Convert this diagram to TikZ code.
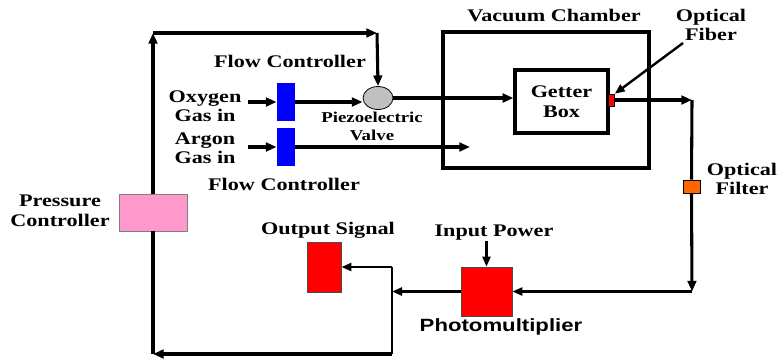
\documentclass[tikz,border=0pt]{standalone}
\usepackage{fontspec}
\newfontfamily\labfont{Liberation Serif}[FakeStretch=1.25]
\newfontfamily\sanslab{Liberation Sans}[FakeStretch=1.25]
\usetikzlibrary{arrows.meta,shapes.geometric}
\definecolor{fcblue}{RGB}{0,0,255}
\definecolor{pcpink}{RGB}{255,153,204}
\definecolor{fred}{RGB}{255,0,0}
\definecolor{forange}{RGB}{255,102,0}
\definecolor{vgray}{RGB}{192,192,192}
\begin{document}
\begin{tikzpicture}[x=0.75pt,y=-0.75pt,
  lab/.style={font=\labfont\bfseries\fontsize{13.3pt}{14.6pt}\selectfont, align=center, inner sep=0pt},
  smalllab/.style={font=\labfont\bfseries\fontsize{11.3pt}{13.5pt}\selectfont, align=center, inner sep=0pt},
  sanslabel/.style={font=\sanslab\bfseries\fontsize{13.3pt}{14.6pt}\selectfont, align=center, inner sep=0pt},
  box/.style={draw, rectangle, inner sep=0pt, line width=0.6pt},
  conn/.style={line width=2.3pt},
  arr/.style={line width=2.3pt, -{Triangle[length=8pt,width=6.5pt]}},
  tarr/.style={line width=1.8pt, -{Triangle[length=7.5pt,width=6pt]}},
  thinl/.style={line width=1.8pt}
]
\useasboundingbox (0,0) rectangle (780,362);

% boxes
\node[box, draw=none, fill=fcblue, minimum width={18*0.75pt}, minimum height={38*0.75pt}] (fc1) at (286,102) {};
\node[box, draw=none, fill=fcblue, minimum width={18*0.75pt}, minimum height={38*0.75pt}] (fc2) at (286,147) {};
\node[draw=black, line width=0.6pt, fill=vgray, ellipse, inner sep=0pt, minimum width={30*0.75pt}, minimum height={23*0.75pt}] (valve) at (378,98) {};
\node[draw, line width=2.4pt, rectangle, inner sep=0pt, minimum width={206*0.75pt}, minimum height={136*0.75pt}] (chamber) at (546,100) {};
\node[draw, line width=2.4pt, rectangle, inner sep=0pt, minimum width={93*0.75pt}, minimum height={63*0.75pt}, lab] (getter) at (561.5,101.5) {Getter\\Box};
\node[box, fill=fred, line width=0.4pt, minimum width={6*0.75pt}, minimum height={12*0.75pt}] (fiber) at (611.5,100) {};
\node[box, fill=forange, line width=0.4pt, minimum width={17*0.75pt}, minimum height={13*0.75pt}] (filter) at (691.5,186.5) {};
\node[box, fill=pcpink, draw=gray, minimum width={68*0.75pt}, minimum height={37*0.75pt}] (pc) at (153,212.5) {};
\node[box, fill=fred, draw=black!70, minimum width={34*0.75pt}, minimum height={50*0.75pt}] (out) at (324,267) {};
\node[box, fill=fred, draw=black!70, minimum width={51*0.75pt}, minimum height={49*0.75pt}] (pm) at (486.5,291.5) {};

% labels
\node[lab] (lfc1) at (290,61) {Flow Controller};
\node[lab] (lox) at (205,106) {Oxygen\\Gas in};
\node[lab] (lar) at (205,148) {Argon\\Gas in};
\node[lab] (lfc2) at (284,184) {Flow Controller};
\node[smalllab] (lvalve) at (372,126) {Piezoelectric\\Valve};
\node[lab] (lvc) at (554,15) {Vacuum Chamber};
\node[lab] (lof) at (711,25) {Optical\\Fiber};
\node[lab] (lofl) at (742,179) {Optical\\Filter};
\node[lab] (lpc) at (60,211) {Pressure\\Controller};
\node[lab] (lout) at (328,230) {Output Signal};
\node[lab] (lin) at (494,233) {Input Power};
\node[sanslabel] (lpm) at (501,327) {Photomultiplier};

% coordinates
\coordinate (oxin) at (248,102);
\coordinate (arin) at (248,147);
\coordinate (arend) at (470,147);
\coordinate (tl) at (153,33);
\coordinate (tr) at (377,33);
\coordinate (bl) at (153,354);
\coordinate (br) at (392,354);
\coordinate (jo) at (392,267);
\coordinate (jpm) at (392,291.5);
\coordinate (rt) at (692,100);
\coordinate (rb) at (692,291.5);
\coordinate (ofs) at (683,43);
\coordinate (ins) at (486.5,241);

% gas lines
\draw[arr] (oxin) -- (fc1.west);
\draw[arr] (fc1.east) -- (valve.west |- fc1.east);
\draw[arr] (arin) -- (fc2.west);
\draw[arr] (fc2.east) -- (arend);
\draw[arr] (valve.east) -- (getter.west |- valve.east);

% fiber / filter / PM
\draw[arr] (fiber.east) -- (rt);
\draw[conn] (rt) -- (filter.north);
\draw[arr] (filter.south) -- (rb);
\draw[tarr] (rb) -- (pm.east);
\draw[tarr] (ofs) -- (fiber.north east);
\draw[tarr] (ins) -- (pm.north);

% outputs
\draw[tarr] (pm.west) -- (jpm);
\draw[thinl] (jo) -- (br);
\draw[tarr] (jo) -- (out.east);
\draw[arr] (br) -- (bl);
\draw[conn] (bl) -- (pc.south);
\draw[arr] (pc.north) -- (tl);
\draw[arr] (tl) -- (tr);
\draw[arr] (tr) -- (valve.north);
\end{tikzpicture}
\end{document}
